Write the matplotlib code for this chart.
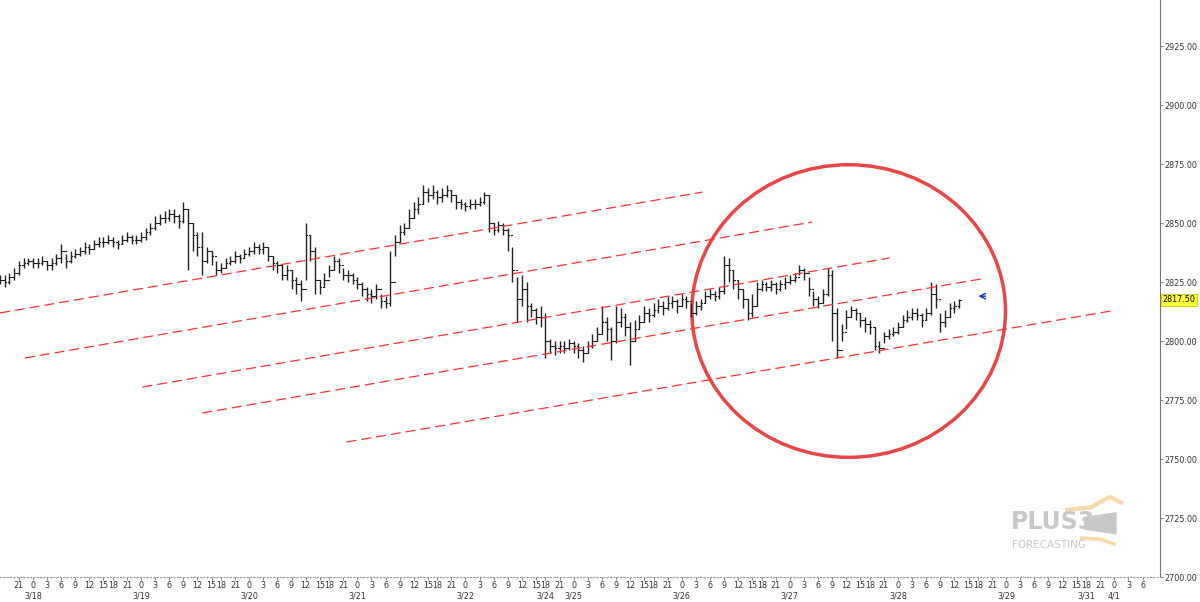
import matplotlib
matplotlib.use("Agg")
import matplotlib.pyplot as plt
from matplotlib.patches import Ellipse, Polygon

# Hourly bars, x = trading-hour index (session 3/18 starts at 0)
closes = [
    2826, 2825, 2827, 2829, 2832, 2833, 2834, 2833, 2833, 2834, 2832, 2833, 2835, 2838, 2834, 2836, 2837, 2838, 2840, 2839, 2841, 2842,
    2842, 2843, 2842, 2841, 2843, 2844, 2843, 2843, 2844, 2846, 2848, 2850, 2852, 2852, 2854, 2853, 2851, 2856, 2850, 2845, 2840,
    2834, 2838, 2836, 2830, 2831, 2833, 2834, 2836, 2835, 2837, 2838, 2840, 2839, 2840, 2836, 2833, 2832, 2828, 2830, 2826, 2824,
    2822, 2845, 2838, 2826, 2823, 2826, 2830, 2834, 2832, 2828, 2828, 2826, 2824, 2822, 2820, 2819, 2822, 2817, 2816, 2825, 2842,
    2846, 2848, 2852, 2856, 2858, 2863, 2862, 2863, 2861, 2862, 2864, 2862, 2859, 2858, 2857, 2858, 2858, 2859, 2862, 2850, 2847,
    2849, 2847, 2845, 2830, 2818, 2822, 2815, 2813, 2810, 2810, 2800, 2798, 2797, 2798, 2797, 2799, 2798, 2796, 2795, 2798, 2800, 2803,
    2808, 2805, 2800, 2808, 2810, 2806, 2800, 2805, 2808, 2812, 2811, 2813, 2815, 2814, 2816, 2817, 2815, 2818, 2817, 2812, 2815,
    2816, 2819, 2820, 2819, 2821, 2832, 2830, 2826, 2822, 2818, 2812, 2815, 2822, 2824, 2823, 2824, 2822, 2824, 2825, 2826, 2827,
    2830, 2829, 2822, 2818, 2816, 2820, 2828, 2812, 2796, 2804, 2810, 2813, 2812, 2809, 2807, 2806, 2798, 2797, 2802, 2803, 2804,
    2806, 2809, 2810, 2812, 2811, 2809, 2812, 2820, 2818, 2808, 2810, 2814, 2815, 2817.5,
]
highs = [
    2828, 2828, 2829, 2831, 2834, 2835, 2835, 2835, 2835, 2836, 2834, 2835, 2837, 2841, 2837, 2838, 2839, 2840, 2842, 2841, 2843, 2844,
    2844, 2845, 2844, 2843, 2845, 2846, 2845, 2845, 2846, 2848, 2850, 2853, 2854, 2855, 2856, 2856, 2854, 2859, 2856, 2850, 2846,
    2846, 2840, 2838, 2834, 2833, 2835, 2836, 2838, 2837, 2839, 2840, 2842, 2841, 2842, 2840, 2836, 2834, 2832, 2832, 2830, 2827,
    2826, 2850, 2845, 2840, 2826, 2829, 2832, 2836, 2835, 2831, 2830, 2829, 2827, 2825, 2823, 2822, 2824, 2820, 2819, 2838, 2845,
    2849, 2850, 2856, 2859, 2861, 2866, 2865, 2866, 2864, 2865, 2866, 2864, 2862, 2860, 2859, 2860, 2860, 2861, 2863, 2862, 2850,
    2851, 2850, 2848, 2840, 2827, 2828, 2825, 2816, 2814, 2815, 2812, 2801, 2800, 2800, 2800, 2801, 2800, 2799, 2798, 2800, 2803, 2806,
    2815, 2810, 2806, 2815, 2814, 2812, 2808, 2809, 2811, 2815, 2814, 2816, 2818, 2817, 2819, 2819, 2818, 2820, 2819, 2816, 2817,
    2818, 2821, 2822, 2821, 2823, 2836, 2835, 2830, 2826, 2822, 2818, 2820, 2825, 2826, 2825, 2826, 2825, 2826, 2827, 2828, 2829,
    2832, 2831, 2827, 2821, 2819, 2822, 2831, 2830, 2814, 2807, 2813, 2815, 2814, 2812, 2810, 2809, 2806, 2800, 2804, 2805, 2806,
    2808, 2811, 2813, 2814, 2814, 2812, 2814, 2825, 2824, 2812, 2813, 2816, 2817, 2818,
]
lows = [
    2824, 2823, 2824, 2826, 2828, 2831, 2832, 2831, 2831, 2832, 2830, 2830, 2832, 2833, 2831, 2833, 2835, 2836, 2837, 2837, 2839, 2840,
    2840, 2841, 2840, 2839, 2841, 2842, 2841, 2841, 2842, 2843, 2845, 2847, 2849, 2850, 2851, 2850, 2848, 2850, 2830, 2838, 2836,
    2828, 2833, 2832, 2828, 2829, 2831, 2832, 2833, 2833, 2835, 2836, 2837, 2837, 2837, 2834, 2830, 2829, 2826, 2826, 2822, 2820,
    2817, 2826, 2834, 2820, 2820, 2823, 2827, 2830, 2829, 2826, 2825, 2824, 2822, 2819, 2817, 2816, 2818, 2814, 2814, 2815, 2836,
    2842, 2845, 2848, 2852, 2854, 2858, 2859, 2860, 2858, 2859, 2861, 2859, 2856, 2856, 2855, 2856, 2856, 2857, 2858, 2846, 2845,
    2846, 2845, 2838, 2825, 2808, 2815, 2808, 2810, 2807, 2806, 2793, 2795, 2794, 2795, 2795, 2796, 2795, 2793, 2791, 2795, 2797, 2800,
    2803, 2800, 2792, 2799, 2806, 2802, 2790, 2800, 2805, 2808, 2808, 2810, 2812, 2811, 2813, 2814, 2812, 2815, 2814, 2810, 2811,
    2813, 2816, 2818, 2817, 2818, 2820, 2825, 2822, 2818, 2814, 2809, 2810, 2815, 2821, 2821, 2821, 2820, 2821, 2822, 2824, 2825,
    2828, 2826, 2819, 2815, 2814, 2816, 2819, 2800, 2793, 2800, 2805, 2810, 2809, 2806, 2804, 2803, 2796, 2795, 2799, 2801, 2802,
    2803, 2806, 2808, 2809, 2809, 2806, 2809, 2811, 2814, 2804, 2806, 2810, 2812, 2814,
]
first_bar = -1

# dashed channel lines: (x0, y0, x1, y1) in trading hours / price
channels = [
    (-1.0, 2811.9, 148.4, 2863.1),
    (4.3, 2792.8, 171.7, 2850.4),
    (29.3, 2780.5, 188.2, 2835.2),
    (42.0, 2769.5, 207.7, 2826.3),
    (72.7, 2757.2, 235.2, 2812.7),
]

sessions = ["3/18", "3/19", "3/20", "3/21", "3/22", "3/25", "3/26", "3/27", "3/28", "3/29", "4/1"]
after_weekend = {"3/25": "3/24", "4/1": "3/31"}
session_hours = [18, 21, 0, 3, 6, 9, 12, 15]
last_price = 2817.50
y_ticks = [2700, 2725, 2750, 2775, 2800, 2825, 2850, 2875, 2900, 2925]

fig = plt.figure(figsize=(12, 6.02), dpi=100)
ax = fig.add_axes([0.0, 0.0415, 0.967, 0.9585])

# bars
for i, (c, h, l) in enumerate(zip(closes, highs, lows)):
    x = first_bar + i
    o = closes[i - 1] if i > 0 else c
    ax.plot([x, x], [l, h], color="#222222", lw=1.0, solid_capstyle="butt")
    ax.plot([x - 0.35, x], [o, o], color="#222222", lw=0.8)
    ax.plot([x, x + 0.35], [c, c], color="#222222", lw=0.8)

for x0, y0, x1, y1 in channels:
    ax.plot([x0, x1], [y0, y1], color="#ff3030", lw=0.9, dashes=(8, 4))

ax.add_patch(Ellipse((179.5, 2812.7), 66.7, 124, fill=False, ec="#e84545", lw=2.5))

# current price arrow
ax.annotate("", xy=(206.5, last_price + 1.5), xytext=(209.2, last_price + 1.5),
            arrowprops=dict(arrowstyle="->", color="#1030d0", lw=1))

ax.set_xlim(-1.0, 245.8)
ax.set_ylim(2700, 2944.5)

# x ticks
xt, xl, minor = [], [], []
for s, date in enumerate(sessions):
    for k, hr in enumerate(session_hours):
        t = s * 23 + k * 3
        if t < 1 or t > 242:
            continue
        lab = str(hr)
        if hr == 0:
            lab += "\n" + date
        elif hr == 18 and date in after_weekend:
            lab += "\n" + after_weekend[date]
        xt.append(t)
        xl.append(lab)
    for k in range(23):
        minor.append(s * 23 + k)
ax.set_xticks(xt)
ax.set_xticklabels(xl, fontsize=5.8, color="#333333", linespacing=1.25, va="top")
ax.set_xticks([m for m in minor if -1 < m < 245], minor=True)
ax.tick_params(axis="x", which="major", length=2, pad=1, color="#888888")
ax.tick_params(axis="x", which="minor", length=1, color="#aaaaaa")

ax.yaxis.tick_right()
ax.set_yticks(y_ticks)
ax.set_yticklabels([f"{v:.2f}" for v in y_ticks], fontsize=5.8, color="#333333")
ax.tick_params(axis="y", length=2, pad=1, color="#888888")
ax.text(1.002, (last_price - 2700) / 244.5, f"{last_price:.2f}", transform=ax.transAxes,
        fontsize=5.8, va="center", ha="left",
        bbox=dict(boxstyle="square,pad=0.2", fc="#ffff33", ec="#c8c800", lw=0.6))

for side in ["left", "top"]:
    ax.spines[side].set_visible(False)
ax.spines["right"].set_color("#777777")
ax.spines["bottom"].set_color("#999999")
ax.spines["bottom"].set_linestyle((0, (1, 2)))

# logo
ax.add_patch(Polygon([[229.5, 2725.5], [236.5, 2727.5], [236.5, 2718], [229.5, 2720]],
                     closed=True, fc="#c8c8c8", ec="none"))
ax.plot([226, 231, 235, 237.5], [2728.5, 2729.5, 2734, 2731.5], color="#f8d7a8", lw=3)
ax.plot([229, 233, 236], [2716.5, 2716, 2714], color="#f8d7a8", lw=2.5)
ax.text(214, 2723.5, "PLUS3", fontsize=17, fontweight="bold", color="#c8c8c8",
        va="center", ha="left")
ax.text(214.2, 2713.5, "FORECASTING", fontsize=7.5, color="#c8c8c8", va="center", ha="left")

fig.savefig("out.png", dpi=100)
